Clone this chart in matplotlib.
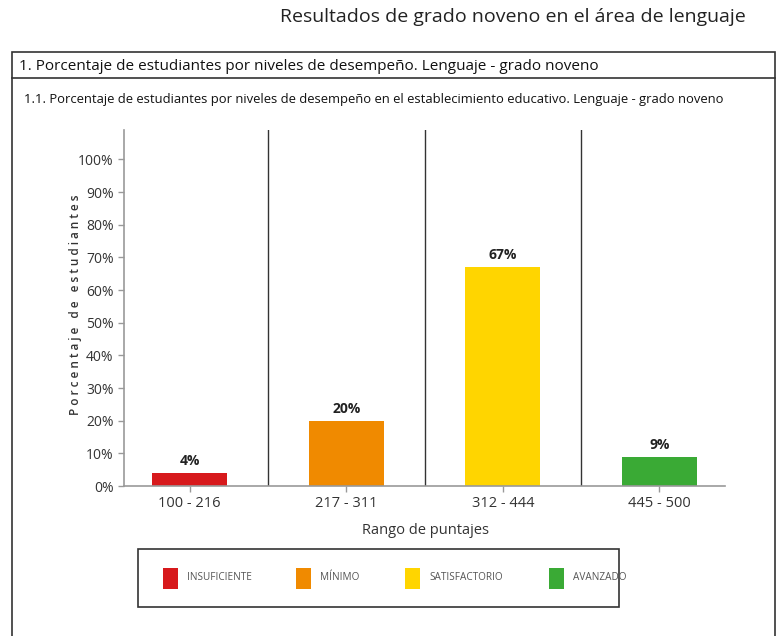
import matplotlib.pyplot as plt
from matplotlib.patches import Rectangle
from matplotlib.lines import Line2D

# datos
rangos = ["100 - 216", "217 - 311", "312 - 444", "445 - 500"]
niveles = ["INSUFICIENTE", "MÍNIMO", "SATISFACTORIO", "AVANZADO"]
porcentajes = [4, 20, 67, 9]
colores = ["#D7191C", "#F08A00", "#FFD500", "#3AAA35"]
yticks = [0, 10, 20, 30, 40, 50, 60, 70, 80, 90, 100]

W, H = 781, 636
plt.rcParams["font.family"] = ["Open Sans", "DejaVu Sans"]

fig = plt.figure(figsize=(W / 100, H / 100), dpi=100)

def fx(px):
    return px / W

def fy(py):
    return 1 - py / H

# titulo
fig.text(fx(513), fy(17), "Resultados de grado noveno en el área de lenguaje",
         ha="center", va="center", fontsize=14, color="#222222")

# marcos
fig.add_artist(Rectangle((fx(12), fy(640)), fx(763), fy(52) - fy(640),
                         fill=False, edgecolor="#333333", lw=1.2, transform=fig.transFigure))
fig.add_artist(Line2D([fx(12), fx(775)], [fy(78), fy(78)], color="#333333", lw=1.2,
                      transform=fig.transFigure))
fig.text(fx(19), fy(66), "1. Porcentaje de estudiantes por niveles de desempeño. Lenguaje - grado noveno",
         ha="left", va="center", fontsize=11, color="#111111")
fig.text(fx(24), fy(99), "1.1. Porcentaje de estudiantes por niveles de desempeño en el establecimiento educativo. Lenguaje - grado noveno",
         ha="left", va="center", fontsize=9.4, color="#111111")

# grafico
ax = fig.add_axes([fx(124), fy(486), fx(601), fy(130) - fy(486)])
x = list(range(len(rangos)))
ax.bar(x, porcentajes, width=0.48, color=colores, zorder=2)
for xi, v in zip(x, porcentajes):
    ax.text(xi, v + 1.5, f"{v}%", ha="center", va="bottom", fontsize=10,
            fontweight="bold", color="#222222")
for sep in [0.5, 1.5, 2.5]:
    ax.axvline(sep, color="#333333", lw=1, zorder=1)

ax.set_xlim(-0.42, 3.42)
ax.set_ylim(0, 109)
ax.set_yticks(yticks)
ax.set_yticklabels([f"{t}%" for t in yticks], fontsize=10, color="#333333")
ax.set_xticks(x)
ax.set_xticklabels(rangos, fontsize=10.5, color="#333333")
ax.tick_params(axis="both", color="#999999", length=4, width=1)
for s in ["top", "right"]:
    ax.spines[s].set_visible(False)
for s in ["left", "bottom"]:
    ax.spines[s].set_color("#999999")
    ax.spines[s].set_linewidth(1.2)

fig.text(fx(75), fy(305), "P o r c e n t a j e   d e   e s t u d i a n t e s", rotation=90,
         ha="center", va="center", fontsize=8.5, color="#333333", fontweight="semibold")
fig.text(fx(425), fy(530), "Rango de puntajes", ha="center", va="center",
         fontsize=10.5, color="#333333")

# leyenda
fig.add_artist(Rectangle((fx(138), fy(607)), fx(481), fy(549) - fy(607),
                         fill=False, edgecolor="#333333", lw=1.2, transform=fig.transFigure))
leg_x = [163, 296, 405, 549]
for lx, nombre, c in zip(leg_x, niveles, colores):
    fig.add_artist(Rectangle((fx(lx), fy(589)), fx(15), fy(568) - fy(589),
                             facecolor=c, edgecolor="none", transform=fig.transFigure))
    fig.text(fx(lx + 24), fy(578), nombre, ha="left", va="center", fontsize=7.2,
             color="#555555")

fig.savefig("out.png", dpi=100)
